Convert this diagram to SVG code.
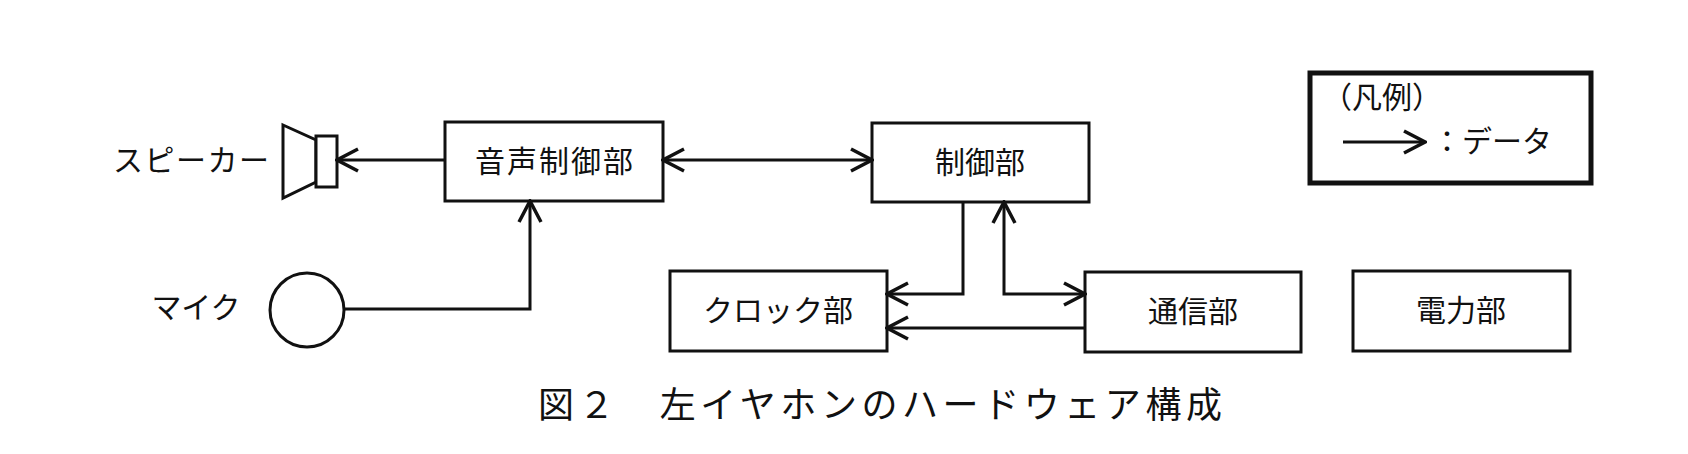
<svg xmlns="http://www.w3.org/2000/svg" width="1688" height="454" viewBox="0 0 1688 454">
<defs>
<marker id="arr" viewBox="0 0 26 26" refX="24" refY="13" markerWidth="26" markerHeight="26" markerUnits="userSpaceOnUse" orient="auto-start-reverse">
<path d="M3,2 L24,13 L3,24" fill="none" stroke="#111" stroke-width="3.5"/>
</marker>
<style>
.b{fill:#fff;stroke:#111;stroke-width:3}
.t{font-family:"Noto Sans CJK JP","Noto Sans",sans-serif;font-size:30px;fill:#111;text-anchor:middle}
.c{fill:none;stroke:#111;stroke-width:3}
</style>
</defs>
<rect width="1688" height="454" fill="#fff"/>
<g id="speaker">
<polygon class="b" points="283,125 316,140 316,182 283,198"/>
<rect class="b" x="316" y="136" width="21" height="51"/>
<text class="t" x="191" y="171" textLength="156" lengthAdjust="spacing">スピーカー</text>
</g>
<g id="mic">
<ellipse class="b" cx="307" cy="310" rx="37" ry="37"/>
<text class="t" x="196" y="318" textLength="89" lengthAdjust="spacing">マイク</text>
</g>
<g id="onsei"><rect class="b" x="445" y="122" width="218" height="79"/><text class="t" x="554" y="172" textLength="158" lengthAdjust="spacing">音声制御部</text></g>
<g id="seigyo"><rect class="b" x="872" y="123" width="217" height="79"/><text class="t" x="980" y="173">制御部</text></g>
<g id="clock"><rect class="b" x="670" y="271" width="217" height="80"/><text class="t" x="778" y="321" textLength="150" lengthAdjust="spacing">クロック部</text></g>
<g id="tsushin"><rect class="b" x="1085" y="272" width="216" height="80"/><text class="t" x="1193" y="322">通信部</text></g>
<g id="denryoku"><rect class="b" x="1353" y="271" width="217" height="80"/><text class="t" x="1461" y="321">電力部</text></g>
<g id="connectors">
<path class="c" d="M445,160 H337" marker-end="url(#arr)"/>
<path class="c" d="M663,160 H872" marker-start="url(#arr)" marker-end="url(#arr)"/>
<path class="c" d="M345,309 H530 V201" marker-end="url(#arr)"/>
<path class="c" d="M963,202 V294 H887" marker-end="url(#arr)"/>
<path class="c" d="M1085,294 H1004 V202" marker-start="url(#arr)" marker-end="url(#arr)"/>
<path class="c" d="M1085,328 H887" marker-end="url(#arr)"/>
</g>
<g id="legend">
<rect x="1310" y="73" width="281" height="110" fill="#fff" stroke="#111" stroke-width="5"/>
<text class="t" x="1322" y="108" style="text-anchor:start">（凡例）</text>
<path class="c" d="M1343,142 H1425" marker-end="url(#arr)"/>
<text class="t" x="1432" y="152" style="text-anchor:start" textLength="120" lengthAdjust="spacing">：データ</text>
</g>
<text class="t" x="880" y="418" style="font-size:36px" textLength="684" lengthAdjust="spacing">図２　左イヤホンのハードウェア構成</text>
</svg>
